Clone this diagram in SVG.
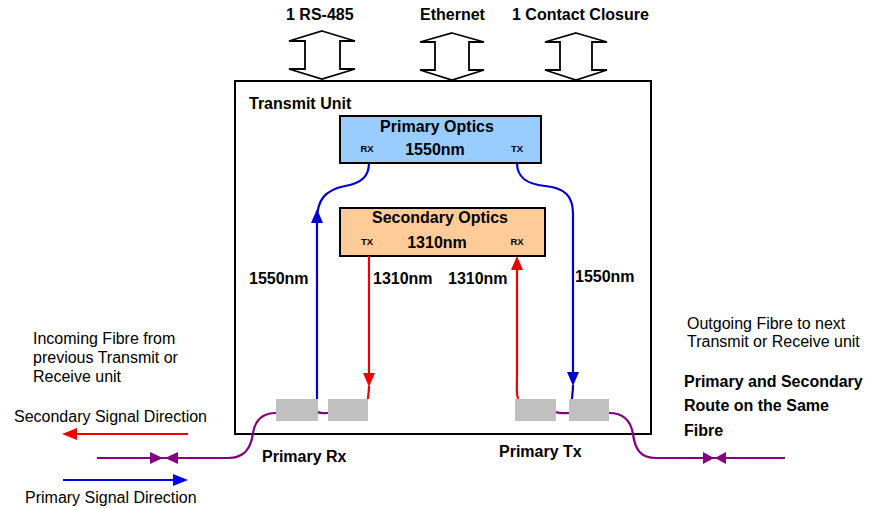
<svg xmlns="http://www.w3.org/2000/svg" width="881" height="508" viewBox="0 0 881 508">
  <style>
    .b { font-family: "Liberation Sans", Arial, sans-serif; font-weight: bold; fill: #000; }
    .r { font-family: "Liberation Sans", Arial, sans-serif; fill: #000; }
    .lg { font-size: 16px; }
    .md { font-size: 16px; }
    .sm { font-size: 9.5px; }
    .box { stroke: #000; stroke-width: 2; }
    .port { fill: #c0c0c0; stroke: none; }
    .dbl { fill: #fff; stroke: #000; stroke-width: 1.8; stroke-linejoin: miter; }
    .blue { fill: none; stroke: #0000cc; stroke-width: 2.2; }
    .red { fill: none; stroke: #ee0000; stroke-width: 2.2; }
    .purple { fill: none; stroke: #800080; stroke-width: 2.2; }
    .ab { fill: #0000cc; }
    .ar { fill: #ee0000; }
    .ap { fill: #800080; }
  </style>

  <!-- Top interface labels and double arrows -->
  <g id="if-rs485">
    <text class="b lg" x="286" y="20">1 RS-485</text>
    <polygon class="dbl" points="322,31 355,41 340,41 340,69 355,69 322,79 289,69 305,69 305,41 289,41"/>
  </g>
  <g id="if-ethernet">
    <text class="b lg" x="420" y="20">Ethernet</text>
    <polygon class="dbl" points="452,33 484,42 469,42 469,70 484,70 452,80 420,70 435,70 435,42 420,42"/>
  </g>
  <g id="if-contact">
    <text class="b lg" x="512" y="20">1 Contact Closure</text>
    <polygon class="dbl" points="576,33 607,42 592,42 592,70 607,70 576,80 545,70 560,70 560,42 545,42"/>
  </g>

  <!-- Transmit unit -->
  <g id="transmit-unit">
    <rect x="235" y="81" width="416" height="353" fill="#fff" stroke="#000" stroke-width="2"/>
    <text class="b md" x="249" y="109">Transmit Unit</text>
  </g>

  <g id="primary-optics">
    <rect class="box" x="340" y="116" width="201" height="47" fill="#99ccff"/>
    <text class="b md" x="437" y="132" text-anchor="middle">Primary Optics</text>
    <text class="b lg" x="435" y="155" text-anchor="middle">1550nm</text>
    <text class="b sm" x="367" y="152" text-anchor="middle">RX</text>
    <text class="b sm" x="517" y="152" text-anchor="middle">TX</text>
  </g>

  <g id="secondary-optics">
    <rect class="box" x="340" y="208" width="205" height="48" fill="#ffcc99"/>
    <text class="b md" x="440" y="223" text-anchor="middle">Secondary Optics</text>
    <text class="b lg" x="437" y="248" text-anchor="middle">1310nm</text>
    <text class="b sm" x="367" y="245" text-anchor="middle">TX</text>
    <text class="b sm" x="517" y="245" text-anchor="middle">RX</text>
  </g>

  <g id="port-rx-1"><rect class="port" x="276" y="399" width="42" height="22"/></g>
  <g id="port-rx-2"><rect class="port" x="328" y="399" width="40" height="22"/></g>
  <g id="port-tx-1"><rect class="port" x="515" y="399" width="41" height="22"/></g>
  <g id="port-tx-2"><rect class="port" x="569" y="399" width="40" height="22"/></g>

  <!-- Connectors -->
  <g id="connectors">
    <!-- primary RX path (blue, up) -->
    <path class="blue" d="M317,399 L317,220 C317,200 325,190 345,186 C362,183 369,176 369,163"/>
    <polygon class="ab" points="317,209 323,223 311,223"/>
    <!-- primary TX path (blue, down) -->
    <path class="blue" d="M517,163 C517,177 526,184 545,186 C565,188 573,196 573,214 L573,375"/>
    <polygon class="ab" points="573,386 567,372 579,372"/>
    <path class="blue" d="M573,385 C573,392 572,396 572,399"/>
    <!-- secondary TX path (red, down) -->
    <path class="red" d="M369,256 L369,375"/>
    <polygon class="ar" points="369,387 363,373 375,373"/>
    <path class="red" d="M369,386 C369,392 368,396 368,399"/>
    <!-- secondary RX path (red, up) -->
    <path class="red" d="M518,399 C516,392 517,386 517,378 L517,268"/>
    <polygon class="ar" points="517,256 523,270 511,270"/>

    <!-- fibre links between ports -->
    <path class="purple" d="M318,412 C321,414 325,413 328,413"/>
    <path class="purple" d="M556,412 C560,414 565,413 569,413"/>

    <!-- incoming fibre -->
    <path class="purple" d="M276,413 C262,413 255,421 253,433 C251,449 244,458 228,458 L97,458"/>
    <polygon class="ap" points="150,452 163,458 150,464"/>
    <polygon class="ap" points="178,452 165,458 178,464"/>

    <!-- outgoing fibre -->
    <path class="purple" d="M609,413 C624,413 631,422 633,434 C635,450 641,458 656,458 L785,458"/>
    <polygon class="ap" points="703,452 714,458 703,464"/>
    <polygon class="ap" points="726,452 715,458 726,464"/>

    <!-- signal direction legend arrows -->
    <path d="M188,434 L74,434" stroke="#ee0000" stroke-width="2.2" fill="none"/>
    <polygon class="ar" points="62,434 77,428 77,440"/>
    <path d="M63,480 L176,480" stroke="#0000ee" stroke-width="2.2" fill="none"/>
    <polygon points="188,480 173,474 173,486" fill="#0000ee"/>
  </g>

  <!-- Wavelength labels -->
  <g id="labels">
    <text class="b lg" x="249" y="284">1550nm</text>
    <text class="b lg" x="373" y="284">1310nm</text>
    <text class="b lg" x="448" y="284">1310nm</text>
    <text class="b lg" x="575" y="282">1550nm</text>
    <text class="b lg" x="262" y="462">Primary Rx</text>
    <text class="b lg" x="499" y="457">Primary Tx</text>

    <text class="r md" x="33" y="344">Incoming Fibre from</text>
    <text class="r md" x="33" y="363">previous Transmit or</text>
    <text class="r md" x="33" y="382">Receive unit</text>
    <text class="r lg" x="14" y="422">Secondary Signal Direction</text>
    <text class="r lg" x="25" y="503">Primary Signal Direction</text>

    <text class="r md" x="687" y="329">Outgoing Fibre to next</text>
    <text class="r md" x="687" y="347">Transmit or Receive unit</text>
    <text class="b md" x="684" y="387">Primary and Secondary</text>
    <text class="b md" x="684" y="411">Route on the Same</text>
    <text class="b md" x="684" y="436">Fibre</text>
  </g>
</svg>
